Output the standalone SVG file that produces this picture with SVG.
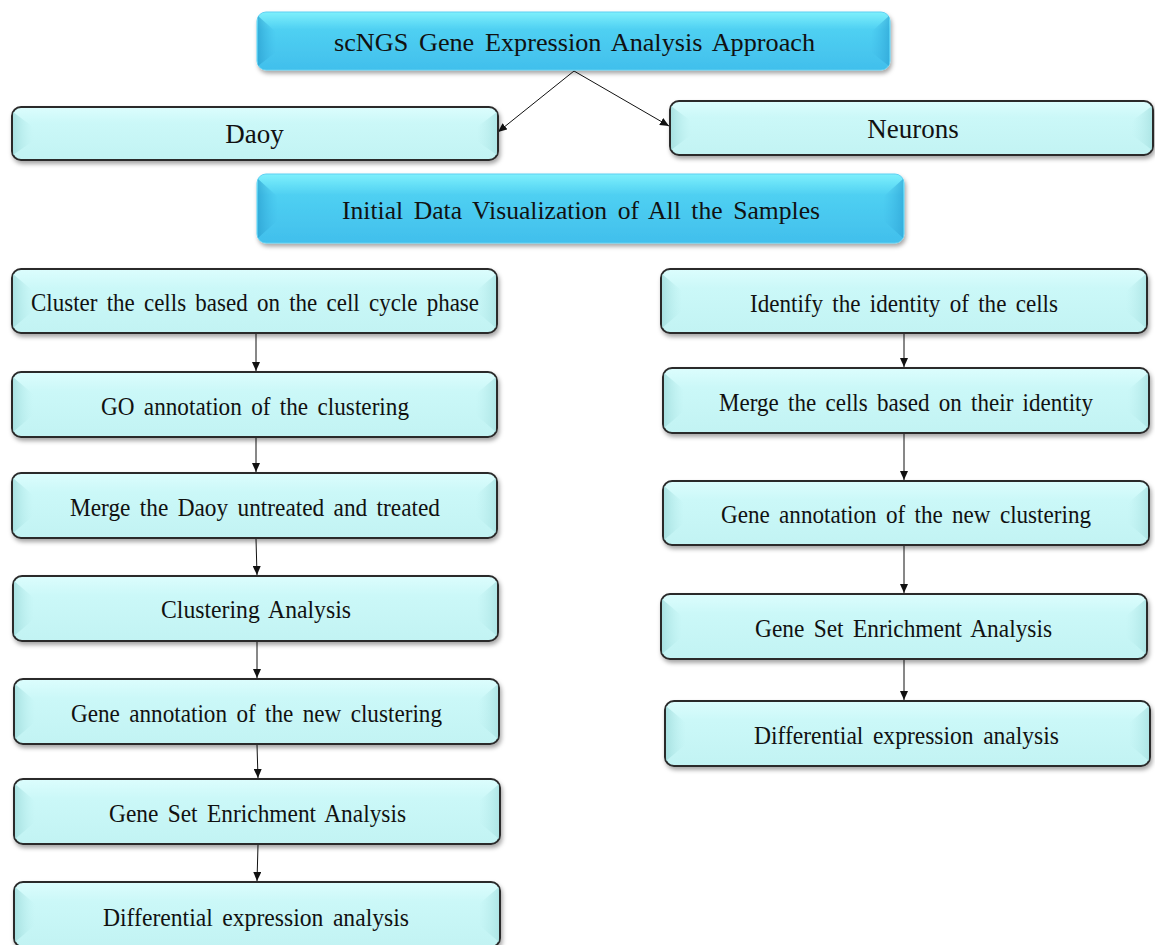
<svg xmlns="http://www.w3.org/2000/svg" width="1155" height="945" viewBox="0 0 1155 945">
  <defs>
    <style>
      .lbl { font-family: "Liberation Serif", "Times New Roman", serif; fill: #111; text-anchor: middle; dominant-baseline: central; font-size: 26px; word-spacing: 4px; }
      .hd { font-size: 25px; }
      .big { font-size: 27px; word-spacing: 0; }
      .card { fill: url(#cyanFill); stroke: #2b2b2b; stroke-width: 2; filter: url(#shadow); }
      .head { fill: url(#blueFill); stroke: #5fd0f2; stroke-width: 1; filter: url(#shadow); }
      .bevL { fill: url(#bevelL); }
      .bevR { fill: url(#bevelR); }
      .bevBL { fill: url(#bevelBL); }
      .bevBR { fill: url(#bevelBR); }
      .conn { stroke: #111; stroke-width: 1; fill: none; marker-end: url(#arrow); }
    </style>
    <linearGradient id="cyanFill" x1="0" y1="0" x2="0" y2="1">
      <stop offset="0" stop-color="#dcfdfd"/>
      <stop offset="0.3" stop-color="#cbf8f8"/>
      <stop offset="1" stop-color="#c2f3f3"/>
    </linearGradient>
    <linearGradient id="blueFill" x1="0" y1="0" x2="0" y2="1">
      <stop offset="0" stop-color="#7ef0fc"/>
      <stop offset="0.3" stop-color="#4fd0f2"/>
      <stop offset="1" stop-color="#41bfec"/>
    </linearGradient>
    <linearGradient id="bevelL" x1="0" y1="0" x2="1" y2="0">
      <stop offset="0" stop-color="#9fdcdc" stop-opacity="0.8"/>
      <stop offset="1" stop-color="#b8eded" stop-opacity="0"/>
    </linearGradient>
    <linearGradient id="bevelR" x1="1" y1="0" x2="0" y2="0">
      <stop offset="0" stop-color="#a8e2e2" stop-opacity="0.8"/>
      <stop offset="1" stop-color="#b8eded" stop-opacity="0"/>
    </linearGradient>
    <linearGradient id="bevelBL" x1="0" y1="0" x2="1" y2="0">
      <stop offset="0" stop-color="#2a9fcf" stop-opacity="0.7"/>
      <stop offset="1" stop-color="#3ab3e3" stop-opacity="0"/>
    </linearGradient>
    <linearGradient id="bevelBR" x1="1" y1="0" x2="0" y2="0">
      <stop offset="0" stop-color="#2fa6d6" stop-opacity="0.7"/>
      <stop offset="1" stop-color="#3ab3e3" stop-opacity="0"/>
    </linearGradient>
    <filter id="shadow" x="-5%" y="-20%" width="110%" height="150%">
      <feDropShadow dx="1.5" dy="3" stdDeviation="2" flood-color="#000" flood-opacity="0.35"/>
    </filter>
    <marker id="arrow" viewBox="0 0 10 10" refX="10" refY="5" markerWidth="9" markerHeight="8" markerUnits="userSpaceOnUse" orient="auto" preserveAspectRatio="none">
      <path d="M0,0 L10,5 L0,10 z" fill="#111"/>
    </marker>
  </defs>

  <rect width="1155" height="945" fill="#ffffff"/>

  <!-- connectors -->
  <g id="connectors">
    <line class="conn" x1="574" y1="71" x2="498" y2="132"/>
    <line class="conn" x1="574" y1="71" x2="669" y2="126"/>
    <line class="conn" x1="256" y1="334" x2="256" y2="371"/>
    <line class="conn" x1="256" y1="438" x2="256" y2="472"/>
    <line class="conn" x1="256" y1="539" x2="257" y2="575"/>
    <line class="conn" x1="257" y1="642" x2="257" y2="678"/>
    <line class="conn" x1="257" y1="745" x2="258" y2="778"/>
    <line class="conn" x1="258" y1="845" x2="257" y2="881"/>
    <line class="conn" x1="904" y1="334" x2="904" y2="367"/>
    <line class="conn" x1="904" y1="434" x2="904" y2="480"/>
    <line class="conn" x1="904" y1="546" x2="904" y2="593"/>
    <line class="conn" x1="904" y1="660" x2="904" y2="700"/>
  </g>

  <!-- header: scNGS approach -->
  <g id="n-title">
    <rect class="head" x="257" y="12" width="633" height="58" rx="9"/>
    <polygon class="bevBL" points="258,16 276,32 276,52 258,66"/>
    <polygon class="bevBR" points="889,16 871,32 871,52 889,66"/>
    <text class="lbl hd" x="574.5" y="42" textLength="481" lengthAdjust="spacingAndGlyphs">scNGS Gene Expression Analysis Approach</text>
  </g>

  <g id="n-daoy">
    <rect class="card" x="12" y="107" width="486" height="53" rx="9"/>
    <polygon class="bevL" points="13,112 33,127 33,141 13,155"/>
    <polygon class="bevR" points="497,112 477,127 477,141 497,155"/>
    <text class="lbl big" x="254.5" y="134">Daoy</text>
  </g>

  <g id="n-neurons">
    <rect class="card" x="670" y="101" width="483" height="54" rx="9"/>
    <polygon class="bevL" points="671,106 691,121 691,135 671,150"/>
    <polygon class="bevR" points="1152,106 1132,121 1132,135 1152,150"/>
    <text class="lbl big" x="913" y="129">Neurons</text>
  </g>

  <g id="n-initial">
    <rect class="head" x="257" y="174" width="647" height="69" rx="9"/>
    <polygon class="bevBL" points="258,179 278,197 278,220 258,238"/>
    <polygon class="bevBR" points="903,179 883,197 883,220 903,238"/>
    <text class="lbl hd" x="581" y="210" textLength="478" lengthAdjust="spacingAndGlyphs">Initial Data Visualization of All the Samples</text>
  </g>

  <!-- Daoy branch -->
  <g id="n-cluster-phase">
    <rect class="card" x="12" y="269" width="485" height="64" rx="9"/>
    <polygon class="bevL" points="13,274 33,291 33,311 13,328"/>
    <polygon class="bevR" points="496,274 476,291 476,311 496,328"/>
    <text class="lbl" x="255" y="302" textLength="448" lengthAdjust="spacingAndGlyphs">Cluster the cells based on the cell cycle phase</text>
  </g>

  <g id="n-go">
    <rect class="card" x="12" y="372" width="485" height="65" rx="9"/>
    <polygon class="bevL" points="13,377 33,394 33,415 13,432"/>
    <polygon class="bevR" points="496,377 476,394 476,415 496,432"/>
    <text class="lbl" x="255" y="406" textLength="308" lengthAdjust="spacingAndGlyphs">GO annotation of the clustering</text>
  </g>

  <g id="n-merge-daoy">
    <rect class="card" x="12" y="473" width="485" height="65" rx="9"/>
    <polygon class="bevL" points="13,478 33,495 33,516 13,533"/>
    <polygon class="bevR" points="496,478 476,495 476,516 496,533"/>
    <text class="lbl" x="255" y="507" textLength="370" lengthAdjust="spacingAndGlyphs">Merge the Daoy untreated and treated</text>
  </g>

  <g id="n-clustering">
    <rect class="card" x="13" y="576" width="485" height="65" rx="9"/>
    <polygon class="bevL" points="14,581 34,598 34,619 14,636"/>
    <polygon class="bevR" points="497,581 477,598 477,619 497,636"/>
    <text class="lbl" x="256" y="609" textLength="190" lengthAdjust="spacingAndGlyphs">Clustering Analysis</text>
  </g>

  <g id="n-gene-annot-l">
    <rect class="card" x="14" y="679" width="485" height="65" rx="9"/>
    <polygon class="bevL" points="15,684 35,701 35,722 15,739"/>
    <polygon class="bevR" points="498,684 478,701 478,722 498,739"/>
    <text class="lbl" x="256.5" y="713" textLength="371" lengthAdjust="spacingAndGlyphs">Gene annotation of the new clustering</text>
  </g>

  <g id="n-gsea-l">
    <rect class="card" x="14" y="779" width="486" height="65" rx="9"/>
    <polygon class="bevL" points="15,784 35,801 35,822 15,839"/>
    <polygon class="bevR" points="499,784 479,801 479,822 499,839"/>
    <text class="lbl" x="257.5" y="813" textLength="297" lengthAdjust="spacingAndGlyphs">Gene Set Enrichment Analysis</text>
  </g>

  <g id="n-diff-l">
    <rect class="card" x="14" y="882" width="486" height="65" rx="9"/>
    <polygon class="bevL" points="15,887 35,904 35,925 15,942"/>
    <polygon class="bevR" points="499,887 479,904 479,925 499,942"/>
    <text class="lbl" x="256" y="917" textLength="306" lengthAdjust="spacingAndGlyphs">Differential expression analysis</text>
  </g>

  <!-- Neurons branch -->
  <g id="n-identify">
    <rect class="card" x="661" y="269" width="486" height="64" rx="9"/>
    <polygon class="bevL" points="662,274 682,291 682,311 662,328"/>
    <polygon class="bevR" points="1146,274 1126,291 1126,311 1146,328"/>
    <text class="lbl" x="904" y="303" textLength="308" lengthAdjust="spacingAndGlyphs">Identify the identity of the cells</text>
  </g>

  <g id="n-merge-identity">
    <rect class="card" x="663" y="368" width="486" height="65" rx="9"/>
    <polygon class="bevL" points="664,373 684,390 684,411 664,428"/>
    <polygon class="bevR" points="1148,373 1128,390 1128,411 1148,428"/>
    <text class="lbl" x="906" y="402" textLength="374" lengthAdjust="spacingAndGlyphs">Merge the cells based on their identity</text>
  </g>

  <g id="n-gene-annot-r">
    <rect class="card" x="663" y="481" width="486" height="64" rx="9"/>
    <polygon class="bevL" points="664,486 684,503 684,523 664,540"/>
    <polygon class="bevR" points="1148,486 1128,503 1128,523 1148,540"/>
    <text class="lbl" x="906" y="514" textLength="370" lengthAdjust="spacingAndGlyphs">Gene annotation of the new clustering</text>
  </g>

  <g id="n-gsea-r">
    <rect class="card" x="661" y="594" width="486" height="65" rx="9"/>
    <polygon class="bevL" points="662,599 682,616 682,637 662,654"/>
    <polygon class="bevR" points="1146,599 1126,616 1126,637 1146,654"/>
    <text class="lbl" x="903.5" y="628" textLength="297" lengthAdjust="spacingAndGlyphs">Gene Set Enrichment Analysis</text>
  </g>

  <g id="n-diff-r">
    <rect class="card" x="665" y="701" width="485" height="65" rx="9"/>
    <polygon class="bevL" points="666,706 686,723 686,744 666,761"/>
    <polygon class="bevR" points="1149,706 1129,723 1129,744 1149,761"/>
    <text class="lbl" x="906.5" y="735" textLength="305" lengthAdjust="spacingAndGlyphs">Differential expression analysis</text>
  </g>
</svg>
